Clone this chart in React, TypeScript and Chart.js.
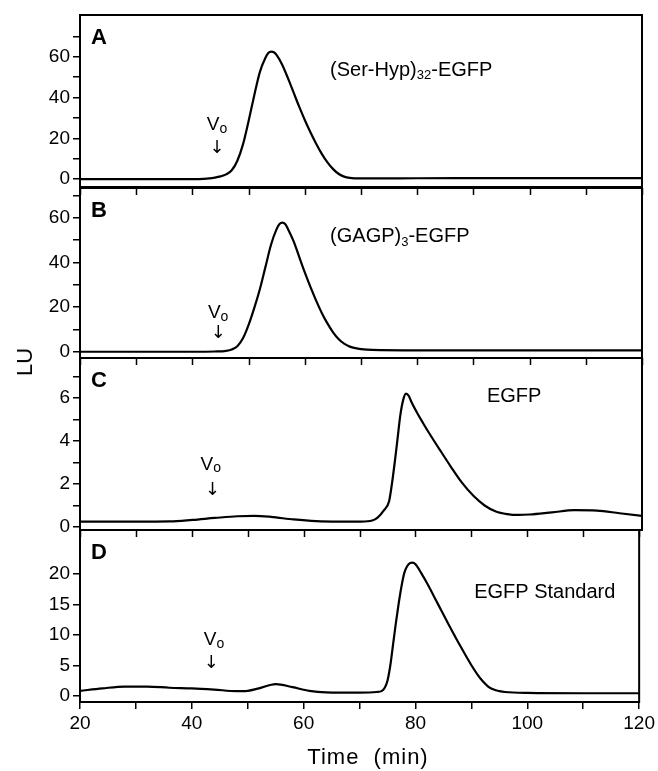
import React, { useEffect, useRef } from 'react';
import { Chart, registerables } from 'chart.js';

Chart.register(...registerables);

const W = 658;
const H = 771;
const PLOT_LEFT = 80;
const PLOT_RIGHT = 642;
const FONT = '"Liberation Sans", Arial, Helvetica, sans-serif';

// ---- x axis (Time, min) ----
const X_MIN = 20;
const X_MAX = 120;
const X_TICKS = [20, 30, 40, 50, 60, 70, 80, 90, 100, 110, 120];
const X_LABELS = [20, 40, 60, 80, 100, 120];

// ---- Panel A: (Ser-Hyp)32-EGFP ----
const timeA = [20, 30, 40, 42, 43, 44, 45, 46, 47, 48, 49, 50, 51, 52, 53, 53.5, 54, 54.5, 55, 56, 57, 58, 59, 60, 61, 62, 63, 64, 65, 66, 67, 68, 70, 80, 100, 120];
const luA = [0, 0, 0, 0.1, 0.3, 0.7, 1.3, 2.3, 4.3, 9, 17, 28.5, 41, 52.5, 59.5, 61.8, 62.5, 62.2, 60.8, 56, 49.5, 42.5, 35.5, 29, 23, 17.5, 12.5, 8.3, 5, 2.6, 1.2, 0.6, 0.35, 0.4, 0.5, 0.5];
const yTicksA = [0, 10, 20, 30, 40, 50, 60, 70];
const yLabelsA = [0, 20, 40, 60];

// ---- Panel B: (GAGP)3-EGFP ----
const timeB = [20, 30, 40, 44, 46, 47, 48, 49, 50, 51, 52, 53, 54, 55, 55.5, 56, 56.5, 57, 58, 59, 60, 61, 62, 63, 64, 65, 66, 67, 68, 69, 70, 72, 80, 100, 120];
const luB = [0, 0, 0, 0.1, 0.4, 1, 2.5, 6, 12, 19.5, 28, 38, 48, 55, 57.2, 57.8, 57.2, 55, 49.5, 42.5, 35.5, 29, 23, 17.5, 12.8, 8.8, 5.7, 3.6, 2.3, 1.6, 1.2, 0.8, 0.6, 0.6, 0.6];
const yTicksB = [0, 10, 20, 30, 40, 50, 60, 70];
const yLabelsB = [0, 20, 40, 60];

// ---- Panel C: EGFP ----
const timeC = [20, 30, 36, 40, 44, 48, 51, 54, 58, 62, 66, 70, 72, 73, 74, 75, 75.5, 76, 76.5, 77, 77.5, 78, 78.5, 79, 80, 81, 82, 84, 86, 88, 90, 92, 94, 96, 98, 100, 104, 108, 112, 116, 120];
const luC = [0.25, 0.25, 0.26, 0.33, 0.42, 0.5, 0.52, 0.47, 0.35, 0.27, 0.25, 0.25, 0.3, 0.45, 0.75, 1.2, 2.0, 3.0, 4.1, 5.2, 5.9, 6.2, 6.1, 5.8, 5.3, 4.85, 4.42, 3.6, 2.8, 2.05, 1.45, 1.0, 0.72, 0.6, 0.56, 0.58, 0.68, 0.78, 0.76, 0.64, 0.52];
const yTicksC = [0, 1, 2, 3, 4, 5, 6, 7];
const yLabelsC = [0, 2, 4, 6];

// ---- Panel D: EGFP Standard ----
const timeD = [20, 24, 28, 32, 36, 40, 44, 48, 50, 52, 55, 58, 61, 64, 70, 73, 74, 74.5, 75, 75.5, 76, 76.5, 77, 77.5, 78, 78.5, 79, 79.5, 80, 81, 82, 84, 86, 88, 90, 91, 92, 93, 94, 95, 96, 100, 110, 120];
const luD = [0.8, 1.2, 1.5, 1.5, 1.3, 1.2, 1.0, 0.75, 0.8, 1.2, 1.9, 1.4, 0.8, 0.55, 0.5, 0.6, 0.8, 1.3, 2.5, 5, 8.5, 12, 15.2, 18, 20.2, 21.3, 21.8, 21.9, 21.6, 20.2, 18.6, 15.1, 11.6, 8.2, 5.0, 3.6, 2.4, 1.5, 1.0, 0.75, 0.6, 0.45, 0.4, 0.4];
const yTicksD = [0, 5, 10, 15, 20];
const yLabelsD = [0, 5, 10, 15, 20];

type Part = { text: string; sub?: boolean };

type PanelSpec = {
  time: number[];
  values: number[];
  yMin: number;
  yMax: number;
  yTicks: number[];
  yLabels: number[];
  top: number;
  bottom: number;
  showX: boolean;
  topTicks: boolean;
  letter: string;
  parts: Part[];
  labelX: number;
  labelY: number;
  voX: number;
  voY: number;
  arrowX: number;
  arrowY: number;
};

const PANELS: PanelSpec[] = [
  {
    time: timeA, values: luA, yMin: -3.9, yMax: 80.5, yTicks: yTicksA, yLabels: yLabelsA,
    top: 15, bottom: 187, showX: false, topTicks: false, letter: 'A',
    parts: [{ text: '(Ser-Hyp)' }, { text: '32', sub: true }, { text: '-EGFP' }],
    labelX: 64.5, labelY: 53.4, voX: 44.4, voY: 26.5, arrowX: 44.4, arrowY: 15,
  },
  {
    time: timeB, values: luB, yMin: -2.8, yMax: 73.3, yTicks: yTicksB, yLabels: yLabelsB,
    top: 188, bottom: 358, showX: false, topTicks: true, letter: 'B',
    parts: [{ text: '(GAGP)' }, { text: '3', sub: true }, { text: '-EGFP' }],
    labelX: 64.5, labelY: 51.4, voX: 44.6, voY: 17.3, arrowX: 44.6, arrowY: 8.4,
  },
  {
    time: timeC, values: luC, yMin: -0.14, yMax: 7.86, yTicks: yTicksC, yLabels: yLabelsC,
    top: 358, bottom: 530, showX: false, topTicks: true, letter: 'C',
    parts: [{ text: 'EGFP' }],
    labelX: 92.4, labelY: 6.05, voX: 43.3, voY: 2.9, arrowX: 43.6, arrowY: 1.7,
  },
  {
    time: timeD, values: luD, yMin: -1.04, yMax: 27.25, yTicks: yTicksD, yLabels: yLabelsD,
    top: 530, bottom: 702, showX: true, topTicks: true, letter: 'D',
    parts: [{ text: 'EGFP Standard' }],
    labelX: 90.5, labelY: 16.9, voX: 44, voY: 9.2, arrowX: 43.5, arrowY: 5.4,
  },
];

const decorPlugin = {
  id: 'decor',
  afterDraw(chart: any, _args: any, opts: any) {
    const { ctx, chartArea: a } = chart;
    const xs = chart.scales.x;
    const ys = chart.scales.y;
    const spec: PanelSpec = opts.spec;
    if (!spec) return;
    ctx.save();
    ctx.strokeStyle = '#000';
    ctx.lineWidth = 2;
    ctx.strokeRect(a.left, a.top, a.right - a.left, a.bottom - a.top);
    if (spec.topTicks) {
      ctx.lineWidth = 1.5;
      ctx.beginPath();
      for (const v of X_TICKS) {
        const px = Math.round(xs.getPixelForValue(v)) + 0.5;
        ctx.moveTo(px, a.top);
        ctx.lineTo(px, a.top + 7);
      }
      ctx.stroke();
    }
    ctx.fillStyle = '#000';
    ctx.textBaseline = 'middle';
    ctx.textAlign = 'left';
    ctx.font = `bold 22px ${FONT}`;
    ctx.fillText(spec.letter, a.left + 11, a.top + 23);

    let lx = xs.getPixelForValue(spec.labelX);
    const ly = ys.getPixelForValue(spec.labelY);
    for (const p of spec.parts) {
      ctx.font = p.sub ? `13px ${FONT}` : `20px ${FONT}`;
      ctx.fillText(p.text, lx, ly + (p.sub ? 5 : 0));
      lx += ctx.measureText(p.text).width;
    }

    const vx = xs.getPixelForValue(spec.voX);
    const vy = ys.getPixelForValue(spec.voY);
    ctx.font = `19px ${FONT}`;
    const vw = ctx.measureText('V').width;
    ctx.fillText('V', vx - (vw + 8) / 2, vy);
    ctx.font = `14px ${FONT}`;
    ctx.fillText('o', vx - (vw + 8) / 2 + vw, vy + 4);
    ctx.textAlign = 'center';
    ctx.font = `18px "DejaVu Sans", ${FONT}`;
    ctx.fillText('\u2193', xs.getPixelForValue(spec.arrowX), ys.getPixelForValue(spec.arrowY));
    ctx.restore();
  },
};

function Panel({ spec }: { spec: PanelSpec }) {
  const ref = useRef<HTMLCanvasElement | null>(null);
  useEffect(() => {
    if (!ref.current) return;
    const padding = { left: 30, right: W - PLOT_RIGHT, top: spec.top, bottom: H - spec.bottom };
    const options: any = {
      animation: false,
      responsive: false,
      maintainAspectRatio: false,
      devicePixelRatio: 1,
      layout: { padding },
      plugins: {
        legend: { display: false },
        tooltip: { enabled: false },
        decor: { spec },
      },
      elements: { point: { radius: 0 } },
      scales: {
        x: {
          type: 'linear',
          min: X_MIN,
          max: X_MAX,
          display: spec.showX,
          afterBuildTicks: (s: any) => {
            s.ticks = X_TICKS.map((v) => ({ value: v }));
          },
          ticks: {
            color: '#000',
            font: { family: FONT, size: 19 },
            padding: 3,
            maxRotation: 0,
            autoSkip: false,
            callback: (v: any) => (X_LABELS.includes(Number(v)) ? String(v) : ''),
          },
          grid: { drawOnChartArea: false, drawTicks: true, tickLength: 7, color: '#000', lineWidth: 1.5 },
          border: { display: true, color: '#000', width: 2 },
        },
        y: {
          type: 'linear',
          min: spec.yMin,
          max: spec.yMax,
          afterBuildTicks: (s: any) => {
            s.ticks = spec.yTicks.map((v) => ({ value: v }));
          },
          ticks: {
            color: '#000',
            font: { family: FONT, size: 19 },
            padding: 3,
            autoSkip: false,
            callback: (v: any) => (spec.yLabels.includes(Number(v)) ? String(v) : ''),
          },
          grid: { drawOnChartArea: false, drawTicks: true, tickLength: 7, color: '#000', lineWidth: 1.5 },
          border: { display: true, color: '#000', width: 2 },
        },
      },
    };
    const chart = new Chart(ref.current, {
      type: 'line',
      data: {
        datasets: [
          {
            data: spec.time.map((t, i) => ({ x: t, y: spec.values[i] })),
            borderColor: '#000',
            borderWidth: 2.2,
            pointRadius: 0,
            fill: false,
            cubicInterpolationMode: 'monotone',
          },
        ],
      },
      options,
      plugins: [decorPlugin],
    } as any);
    for (let i = 0; i < 3; i++) {
      const a = chart.chartArea;
      padding.left += PLOT_LEFT - a.left;
      padding.right += a.right - PLOT_RIGHT;
      padding.top += spec.top - a.top;
      padding.bottom += a.bottom - spec.bottom;
      options.layout.padding = { ...padding };
      chart.update();
    }
    return () => chart.destroy();
  }, [spec]);
  return (
    <canvas
      ref={ref}
      width={W}
      height={H}
      style={{ position: 'absolute', left: 0, top: 0, width: W, height: H }}
    />
  );
}

export default function App() {
  return (
    <div style={{ position: 'absolute', left: 0, top: 0, width: W, height: H, background: '#fff', overflow: 'hidden' }}>
      {PANELS.map((p) => (
        <Panel key={p.letter} spec={p} />
      ))}
      <div
        style={{
          position: 'absolute',
          left: 218,
          top: 745,
          width: 300,
          textAlign: 'center',
          fontFamily: FONT,
          fontSize: 22,
          lineHeight: '24px',
          letterSpacing: 1,
          whiteSpace: 'pre',
          color: '#000',
        }}
      >
        {'Time  (min)'}
      </div>
      <div
        style={{
          position: 'absolute',
          left: 25,
          top: 362,
          transform: 'translate(-50%, -50%) rotate(-90deg)',
          fontFamily: FONT,
          fontSize: 22,
          lineHeight: '24px',
          color: '#000',
          whiteSpace: 'pre',
        }}
      >
        LU
      </div>
    </div>
  );
}
